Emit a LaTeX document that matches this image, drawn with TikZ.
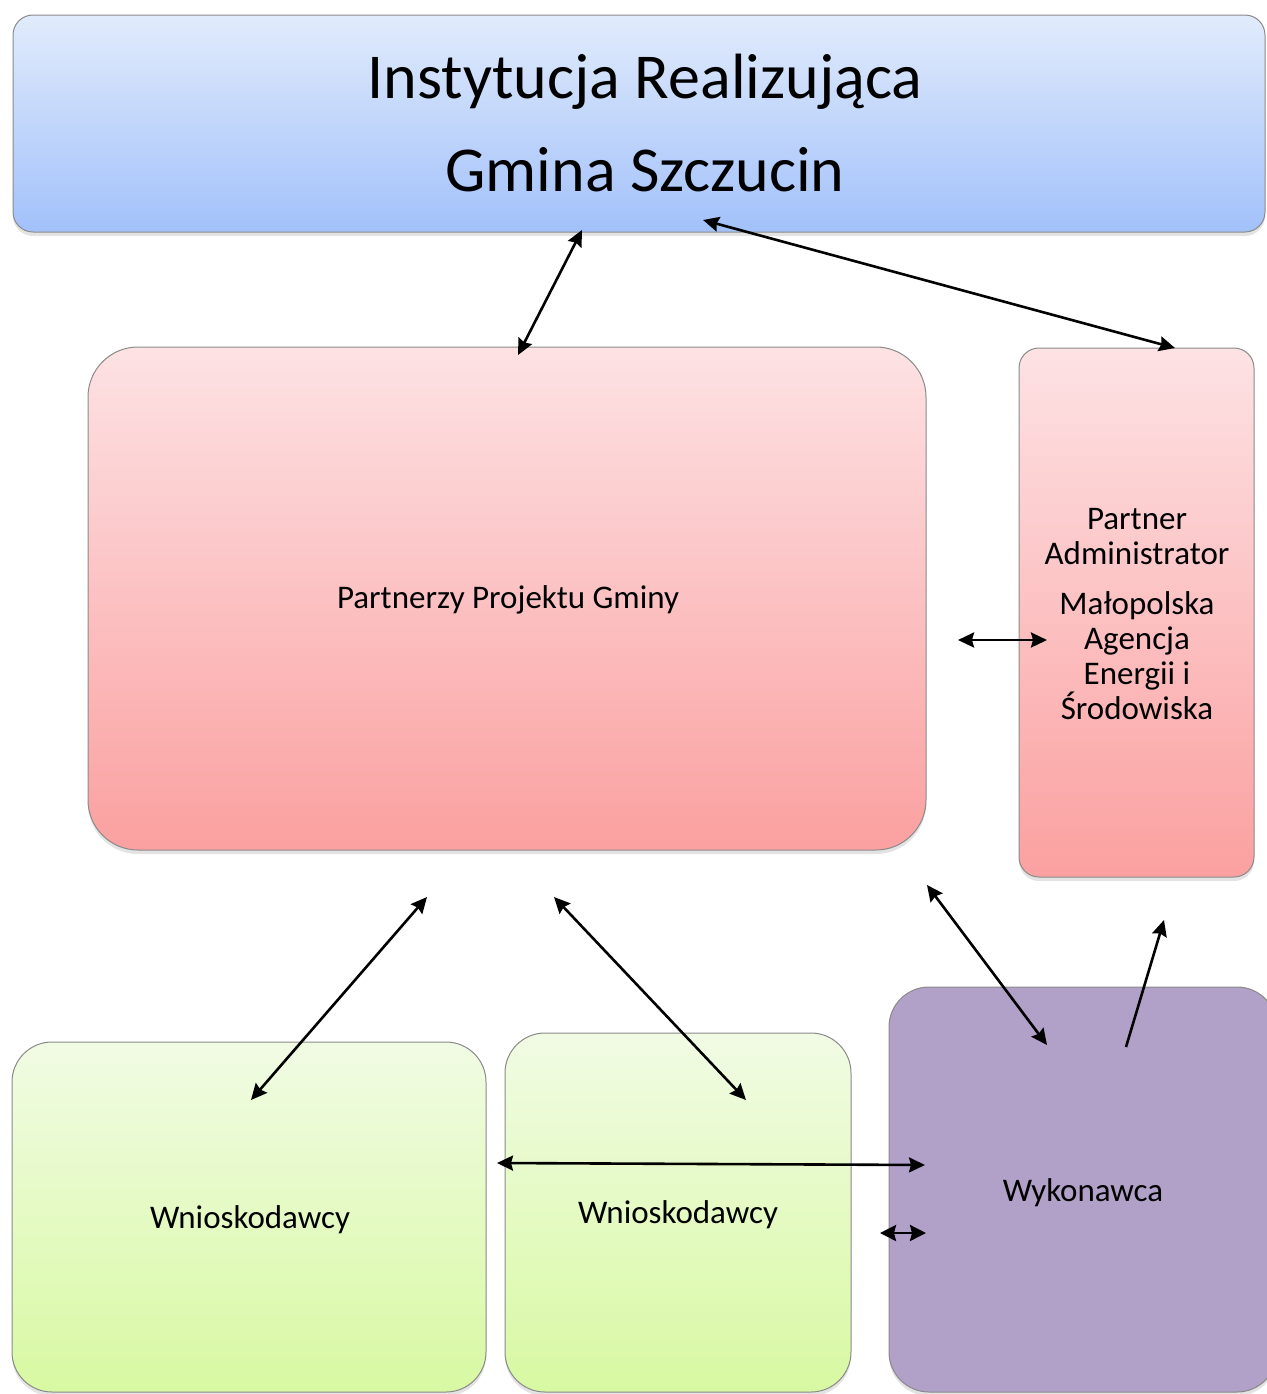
\documentclass[tikz,border=0pt]{standalone}
\usepackage{fontspec}
\setmainfont{Carlito}
\usetikzlibrary{arrows.meta,shadows}
\definecolor{bluetop}{HTML}{E1EBFC}
\definecolor{bluebot}{HTML}{A2C1FA}
\definecolor{pinktop}{HTML}{FDE2E4}
\definecolor{pinkbot}{HTML}{FBA0A0}
\definecolor{greentop}{HTML}{F1FBE4}
\definecolor{greenbot}{HTML}{D8F9A2}
\definecolor{purplefill}{HTML}{B1A0C7}
\definecolor{edgegray}{HTML}{8A8A8A}
\begin{document}
\begin{tikzpicture}[x=0.5pt,y=-0.5pt,
  box/.style={draw=edgegray, line width=0.5pt, inner sep=0pt, outer sep=0pt,
    drop shadow={shadow xshift=0pt, shadow yshift=-2pt, opacity=0.22}},
  bluebox/.style={box, top color=bluetop, bottom color=bluebot, rounded corners=10pt},
  pinkbox/.style={box, top color=pinktop, bottom color=pinkbot},
  greenbox/.style={box, top color=greentop, bottom color=greenbot, rounded corners=20pt},
  purplebox/.style={box, fill=purplefill, rounded corners=20pt},
  label/.style={inner sep=0pt, align=center, text=black},
  big/.style={label, font=\fontsize{32}{46.5}\selectfont},
  small/.style={label, font=\fontsize{16.5}{17.5}\selectfont},
  conn/.style={line width=1.3pt, {Stealth[length=8pt,width=7.5pt,inset=1pt]}-{Stealth[length=8pt,width=7.5pt,inset=1pt]}},
  oneway/.style={line width=1.3pt, -{Stealth[length=8pt,width=7.5pt,inset=1pt]}}
]
\useasboundingbox (0,0) rectangle (1266,1394);

% boxes
\node[bluebox, minimum width=626pt, minimum height=108.5pt] (ir) at (639,123.5) {};
\node[pinkbox, rounded corners=25pt, minimum width=419pt, minimum height=251.5pt]
      (pp) at (507,598.5) {};
\node[pinkbox, rounded corners=10pt, minimum width=117.5pt, minimum height=264.5pt]
      (pa) at (1136.5,612.5) {};
\node[greenbox, minimum width=237pt, minimum height=175pt] (w1) at (249,1217) {};
\node[greenbox, minimum width=173pt, minimum height=179.5pt] (w2) at (678,1212.5) {};
\node[purplebox, minimum width=194pt, minimum height=202.5pt] (wk) at (1083,1189.5) {};

% texts
\node[big] (irtext) at (645,123) {Instytucja Realizująca\\Gmina Szczucin};
\node[small] (pptext) at (508,600) {Partnerzy Projektu Gminy};
\node[small] (patext) at (1137,614) {Partner\\Administrator\\[7.5pt]Małopolska\\Agencja\\Energii i\\Środowiska};
\node[small] (w1text) at (250,1220) {Wnioskodawcy};
\node[small] (w2text) at (678,1215) {Wnioskodawcy};
\node[small] (wktext) at (1083,1193) {Wykonawca};

% connector end points
\coordinate (a1s) at (518,355);  \coordinate (a1e) at (582,230);
\coordinate (a2s) at (1175,348); \coordinate (a2e) at (703,220);
\coordinate (a3s) at (958,640);  \coordinate (a3e) at (1047,640);
\coordinate (a4s) at (427,897);  \coordinate (a4e) at (251,1100);
\coordinate (a5s) at (554,897);  \coordinate (a5e) at (746,1100);
\coordinate (a6s) at (927,885);  \coordinate (a6e) at (1047,1045);
\coordinate (a7s) at (1126,1047); \coordinate (a7e) at (1164,920);
\coordinate (a8s) at (497,1163); \coordinate (a8e) at (925,1165);
\coordinate (a9s) at (880,1233); \coordinate (a9e) at (926,1233);

% connectors
\draw[conn] (a1s) -- (a1e);
\draw[conn] (a2s) -- (a2e);
\draw[conn] (a3s) -- (a3e);
\draw[conn] (a4s) -- (a4e);
\draw[conn] (a5s) -- (a5e);
\draw[conn] (a6s) -- (a6e);
\draw[oneway] (a7s) -- (a7e);
\draw[conn] (a8s) -- (a8e);
\draw[line width=1.3pt, {Stealth[length=8pt,width=8pt,inset=1pt]}-{Stealth[length=8pt,width=8pt,inset=1pt]}] (a9s) -- (a9e);
\end{tikzpicture}
\end{document}
